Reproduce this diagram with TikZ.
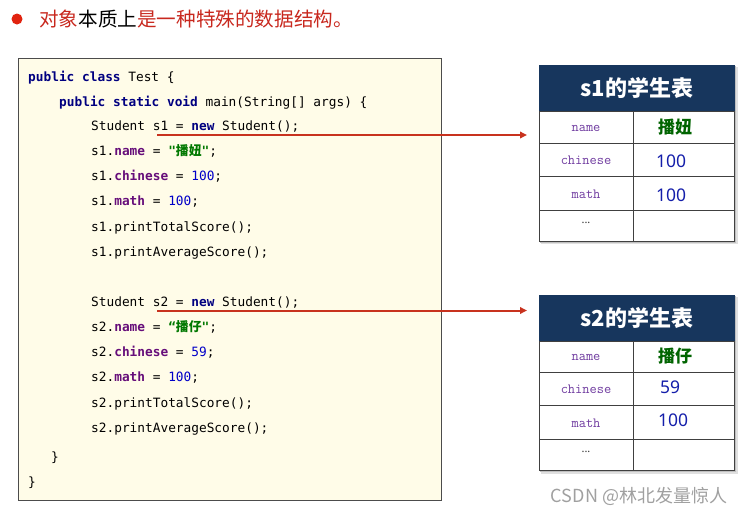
\documentclass[tikz,border=0pt]{standalone}
\usepackage{fontspec}
\setmainfont{Liberation Sans}
\newfontfamily\cjk{Noto Sans CJK SC}
\newfontfamily\codefont{DejaVu Sans Mono}
\newfontfamily\numfont{Noto Sans}
\usetikzlibrary{arrows.meta}
\definecolor{tred}{RGB}{200,40,30}
\definecolor{bred}{RGB}{225,35,15}
\definecolor{kwc}{RGB}{0,0,128}
\definecolor{fldc}{RGB}{102,14,122}
\definecolor{numc}{RGB}{0,0,200}
\definecolor{strc}{RGB}{0,120,0}
\definecolor{codebg}{RGB}{255,252,232}
\definecolor{navy}{RGB}{23,54,93}
\definecolor{labc}{RGB}{112,60,160}
\definecolor{valc}{RGB}{20,30,170}
\definecolor{valg}{RGB}{0,100,0}
\definecolor{arrc}{RGB}{200,50,30}
\definecolor{wmc}{RGB}{160,160,160}
\newcommand{\kw}[1]{\textcolor{kwc}{\bfseries #1}}
\newcommand{\fld}[1]{\textcolor{fldc}{\bfseries #1}}
\newcommand{\nm}[1]{\textcolor{numc}{#1}}
\newcommand{\strg}[1]{\textcolor{strc}{\bfseries #1}}
\tikzset{
  codeline/.style={anchor=base west,inner sep=0pt,font=\codefont\fontsize{12.8}{14}\selectfont},
  arrline/.style={draw=arrc,line width=2pt,-{Triangle[length=7pt,width=6.5pt]}},
  hdr/.style={fill=navy,draw=navy,text=white,font=\cjk\bfseries\fontsize{22}{25}\selectfont,inner sep=0pt},
  cellbox/.style={draw=black!75,line width=0.8pt,fill=white},
  lab/.style={text=labc,font=\ttfamily\fontsize{14}{16}\selectfont,inner sep=0pt},
  val/.style={text=valc,font=\numfont\fontsize{17.5}{20}\selectfont,inner sep=0pt,anchor=west},
  valcn/.style={text=valg,font=\cjk\bfseries\fontsize{17}{20}\selectfont,inner sep=0pt},
  dots/.style={text=black!80,font=\numfont\fontsize{11}{12}\selectfont,inner sep=0pt},
}
\begin{document}
\begin{tikzpicture}[x=1pt,y=-1pt]
\useasboundingbox (0,0) rectangle (750,517);
% title
\node[circle,fill=bred,minimum size=11pt,inner sep=0pt] (bullet) at (17,19) {};
\node[anchor=west,inner sep=0pt,font=\cjk\fontsize{19.6}{22}\selectfont] (title) at (39,19)
  {\textcolor{tred}{对象}本质上\textcolor{tred}{是一种特殊的数据结构。}};
% code box
\draw[fill=codebg,draw=black!70,line width=0.8pt] (18.5,58) rectangle (441.5,500.5);
\node[codeline] (l1) at (28,81) {\kw{public class} Test \{};
\node[codeline] (l2) at (59,106) {\kw{public static void} main(String[] args) \{};
\node[codeline] (l3) at (91,130) {Student s1 = \kw{new} Student();};
\node[codeline] (l4) at (91,155) {s1.\fld{name} = \strg{"{\cjk 播妞}"};};
\node[codeline] (l5) at (91,180) {s1.\fld{chinese} = \nm{100};};
\node[codeline] (l6) at (91,205.5) {s1.\fld{math} = \nm{100};};
\node[codeline] (l7) at (91,231) {s1.printTotalScore();};
\node[codeline] (l8) at (91,256) {s1.printAverageScore();};
\node[codeline] (l9) at (91,306) {Student s2 = \kw{new} Student();};
\node[codeline] (l10) at (91,331) {s2.\fld{name} = \strg{“{\cjk 播仔}"};};
\node[codeline] (l11) at (91,356) {s2.\fld{chinese} = \nm{59};};
\node[codeline] (l12) at (91,381) {s2.\fld{math} = \nm{100};};
\node[codeline] (l13) at (91,407) {s2.printTotalScore();};
\node[codeline] (l14) at (91,432) {s2.printAverageScore();};
\node[codeline] (l15) at (51,461) {\}};
\node[codeline] (l16) at (28,486) {\}};
% table 1
\fill[black!12] (541,67) rectangle (737.5,244);
\fill[black!25] (540,66) rectangle (736,242.5);
\node[hdr,minimum width=195pt,minimum height=46pt,anchor=north west] (t1h) at (539,65) {s1的学生表};
\node[cellbox,minimum width=94pt,minimum height=31.5pt,anchor=north west] (t1a1) at (539,111) {};
\node[cellbox,minimum width=101pt,minimum height=31.5pt,anchor=north west] (t1b1) at (633,111) {};
\node[cellbox,minimum width=94pt,minimum height=33.5pt,anchor=north west] (t1a2) at (539,142.5) {};
\node[cellbox,minimum width=101pt,minimum height=33.5pt,anchor=north west] (t1b2) at (633,142.5) {};
\node[cellbox,minimum width=94pt,minimum height=33.5pt,anchor=north west] (t1a3) at (539,176) {};
\node[cellbox,minimum width=101pt,minimum height=33.5pt,anchor=north west] (t1b3) at (633,176) {};
\node[cellbox,minimum width=94pt,minimum height=31.5pt,anchor=north west] (t1a4) at (539,209.5) {};
\node[cellbox,minimum width=101pt,minimum height=31.5pt,anchor=north west] (t1b4) at (633,209.5) {};
\node[lab] (t1n) at (586,128) {name};
\node[lab] (t1c) at (586,160) {chinese};
\node[lab] (t1m) at (586,194) {math};
\node[dots] (t1d) at (586,223) {...};
\node[valcn] (t1vn) at (675,127) {播妞};
\node[val] (t1vc) at (656,161) {100};
\node[val] (t1vm) at (656,195) {100};
% table 2
\fill[black!12] (541,297) rectangle (737.5,473.5);
\fill[black!25] (540,296) rectangle (736,472);
\node[hdr,minimum width=195pt,minimum height=45.5pt,anchor=north west] (t2h) at (539,295) {s2的学生表};
\node[cellbox,minimum width=94pt,minimum height=31pt,anchor=north west] (t2a1) at (539,340.5) {};
\node[cellbox,minimum width=101pt,minimum height=31pt,anchor=north west] (t2b1) at (633,340.5) {};
\node[cellbox,minimum width=94pt,minimum height=33pt,anchor=north west] (t2a2) at (539,371.5) {};
\node[cellbox,minimum width=101pt,minimum height=33pt,anchor=north west] (t2b2) at (633,371.5) {};
\node[cellbox,minimum width=94pt,minimum height=34pt,anchor=north west] (t2a3) at (539,404.5) {};
\node[cellbox,minimum width=101pt,minimum height=34pt,anchor=north west] (t2b3) at (633,404.5) {};
\node[cellbox,minimum width=94pt,minimum height=31.5pt,anchor=north west] (t2a4) at (539,438.5) {};
\node[cellbox,minimum width=101pt,minimum height=31.5pt,anchor=north west] (t2b4) at (633,438.5) {};
\node[lab] (t2n) at (586,357) {name};
\node[lab] (t2c) at (586,389) {chinese};
\node[lab] (t2m) at (586,423) {math};
\node[dots] (t2d) at (586,452) {...};
\node[valcn] (t2vn) at (675,356) {播仔};
\node[val] (t2vc) at (660,387) {59};
\node[val] (t2vm) at (658,420) {100};
% arrows
\coordinate (a1s) at (157,135);
\coordinate (a1e) at (527,135);
\coordinate (a2s) at (157,310.5);
\coordinate (a2e) at (527,310.5);
\draw[arrline] (a1s) -- (a1e);
\draw[arrline] (a2s) -- (a2e);
% watermark
\node[inner sep=0pt,text=wmc,font=\cjk\fontsize{18}{20}\selectfont] (wm) at (639,496) {CSDN @林北发量惊人};
\end{tikzpicture}
\end{document}
